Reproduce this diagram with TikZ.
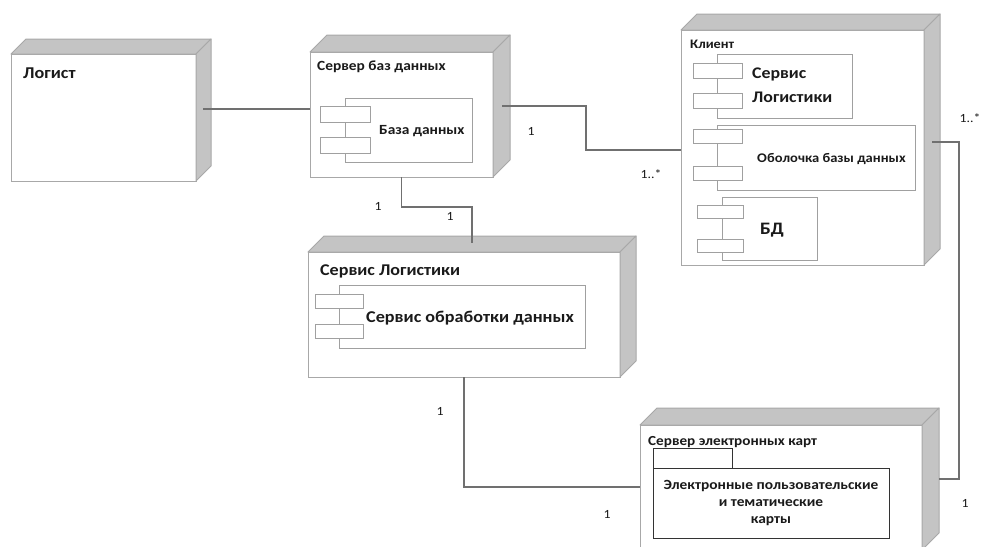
\documentclass[tikz,border=0pt]{standalone}
\usepackage{fontspec}
\setmainfont{Carlito}[FakeStretch=1.1]
\usetikzlibrary{calc}
\definecolor{facefill}{HTML}{C4C4C4}
\definecolor{edgegrey}{HTML}{A8A8A8}
\definecolor{conngrey}{HTML}{707070}
\definecolor{compgrey}{HTML}{A0A0A0}
\definecolor{txt}{HTML}{1A1A1A}
\tikzset{
  front/.style={draw=edgegrey, fill=white, line width=1pt, anchor=north west, inner sep=0pt, outer sep=0pt},
  face/.style={draw=edgegrey, fill=facefill, line width=1pt, line join=round},
  compbox/.style={draw=compgrey, fill=white, line width=0.8pt, anchor=north west, inner sep=0pt, outer sep=0pt},
  pkgbox/.style={draw=black!80, fill=white, line width=1pt, anchor=north west, inner sep=0pt, outer sep=0pt},
  conn/.style={draw=conngrey, line width=1.2pt},
  title/.style={anchor=base west, inner sep=0pt, text=txt, font=\bfseries},
  mult/.style={inner sep=0pt, text=txt, font=\fontsize{12.5}{14}\selectfont},
}
\newcommand\boxfaces[2]{%
  \filldraw[face] (#1.north west) -- ++(#2,-#2) -- ($(#1.north east)+(#2,-#2)$) -- (#1.north east) -- cycle;
  \filldraw[face] (#1.north east) -- ++(#2,-#2) -- ($(#1.south east)+(#2,-#2)$) -- (#1.south east) -- cycle;}
\begin{document}
\begin{tikzpicture}[x=1pt,y=-1pt]
\useasboundingbox (0,0) rectangle (982,546);
\clip (0,0) rectangle (982,546);
\fill[white] (0,0) rectangle (982,546);

\coordinate (a1) at (203,109);
\coordinate (a2) at (502,106);
\coordinate (a3) at (472,243);
\coordinate (a5) at (932,142);
\coordinate (a6) at (939,479);

% ---- Logist ----
\node[front, minimum width=185pt, minimum height=127pt] (logist) at (11,54) {};
\boxfaces{logist}{15}
\node[title, font=\bfseries\fontsize{16.5}{18}\selectfont] (tlogist) at (23,78) {Логист};

% ---- DB server ----
\node[front, minimum width=183pt, minimum height=125pt] (dbserver) at (310,52) {};
\boxfaces{dbserver}{17}
\node[title, font=\bfseries\fontsize{14}{16}\selectfont] (tdbserver) at (317,70) {Сервер баз данных};
\node[compbox, minimum width=127pt, minimum height=64pt] (dbcomp) at (345,98) {};
\node[compbox, minimum width=50pt, minimum height=16pt] (dbr1) at (320,106) {};
\node[compbox, minimum width=50pt, minimum height=16pt] (dbr2) at (320,137) {};
\node[title, font=\bfseries\fontsize{14}{16}\selectfont] (tdbcomp) at (379,134) {База данных};

% ---- Client ----
\node[front, minimum width=243pt, minimum height=235pt] (client) at (681,30) {};
\boxfaces{client}{16}
\node[title, font=\bfseries\fontsize{13}{15}\selectfont] (tclient) at (690,48) {Клиент};
\node[compbox, minimum width=135pt, minimum height=64pt] (cl1) at (717,54) {};
\node[compbox, minimum width=49pt, minimum height=15pt] (cl1r1) at (693,63) {};
\node[compbox, minimum width=49pt, minimum height=15pt] (cl1r2) at (693,93) {};
\node[title, font=\bfseries\fontsize{16.2}{18}\selectfont] (tcl1a) at (752,78) {Сервис};
\node[title, font=\bfseries\fontsize{16.2}{18}\selectfont] (tcl1b) at (752,102) {Логистики};
\node[compbox, minimum width=198pt, minimum height=65pt] (cl2) at (717,125) {};
\node[compbox, minimum width=49pt, minimum height=14pt] (cl2r1) at (693,129) {};
\node[compbox, minimum width=49pt, minimum height=14pt] (cl2r2) at (693,166) {};
\node[title, font=\bfseries\fontsize{13.2}{15}\selectfont] (tcl2) at (757,162) {Оболочка базы данных};
\node[compbox, minimum width=95pt, minimum height=63pt] (cl3) at (722,197) {};
\node[compbox, minimum width=46pt, minimum height=13pt] (cl3r1) at (697,205) {};
\node[compbox, minimum width=46pt, minimum height=13pt] (cl3r2) at (697,239) {};
\node[title, font=\bfseries\fontsize{17.5}{19}\selectfont] (tcl3) at (760,234) {БД};

% ---- Logistics service ----
\node[front, minimum width=312pt, minimum height=125pt] (svc) at (308,252) {};
\boxfaces{svc}{16}
\node[title, font=\bfseries\fontsize{16.4}{18}\selectfont] (tsvc) at (320,275) {Сервис Логистики};
\node[compbox, minimum width=246pt, minimum height=63pt] (svccomp) at (339,285) {};
\node[compbox, minimum width=48pt, minimum height=14pt] (svcr1) at (315,294) {};
\node[compbox, minimum width=48pt, minimum height=14pt] (svcr2) at (315,324) {};
\node[title, font=\bfseries\fontsize{16.5}{18}\selectfont] (tsvccomp) at (366,322) {Сервис обработки данных};

% ---- Map server ----
\node[front, minimum width=282pt, minimum height=125pt] (maps) at (640,425) {};
\boxfaces{maps}{17}
\node[title, font=\bfseries\fontsize{13.8}{15}\selectfont] (tmaps) at (648,445) {Сервер электронных карт};
\node[pkgbox, minimum width=79pt, minimum height=20pt] (pkgtab) at (653,448) {};
\node[pkgbox, minimum width=236pt, minimum height=70pt] (pkg) at (653,468) {};
\node[inner sep=0pt, text=txt, align=center, font=\bfseries\fontsize{14}{17}\selectfont] (tpkg) at (771,503) {Электронные пользовательские\\и тематические\\карты};

% ---- connectors ----
\draw[conn] (a1) -- (dbserver.west |- a1);
\draw[conn] (a2) -- (586,106) -- (586,150) -- (client.west |- 586,150);
\draw[conn] (dbserver.south) -- (dbserver.south |- 0,207) -- (a3 |- 0,207) -- (a3);
\draw[conn] (svc.south) -- (svc.south |- 0,487) -- (maps.west |- 0,487);
\draw[conn] (a5) -- (959,142) -- (959,479) -- (a6);

% ---- multiplicities ----
\node[mult] (m1) at (531,131) {1};
\node[mult] (m2) at (651,174) {1..*};
\node[mult] (m3) at (378,206) {1};
\node[mult] (m4) at (450,216) {1};
\node[mult] (m5) at (440,411) {1};
\node[mult] (m6) at (607,514) {1};
\node[mult] (m7) at (970,118) {1..*};
\node[mult] (m8) at (965,503) {1};
\end{tikzpicture}
\end{document}
